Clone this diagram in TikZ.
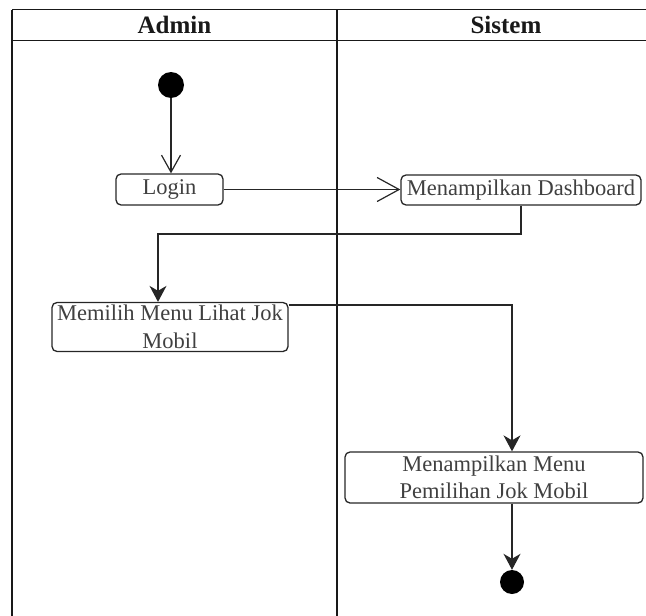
\documentclass[tikz,border=0pt]{standalone}
\usepackage{fontspec}
\setmainfont{Liberation Serif}
\usetikzlibrary{arrows.meta}
\begin{document}
\begin{tikzpicture}[x=1pt,y=-1pt,
  lane/.style={draw=black!90, line width=1.4pt},
  lanetitle/.style={font=\bfseries\fontsize{25}{30}\selectfont, text=black!90, inner sep=0pt},
  act/.style={draw=black!85, line width=1.3pt, rounded corners=5pt, inner sep=0pt,
    align=center, text=black!75, font=\fontsize{22.5}{27.5}\selectfont},
  dot/.style={circle, fill=black, inner sep=0pt},
  flow/.style={draw=black!85, line width=1.2pt},
  openflow/.style={flow, -{Straight Barb[length=#1, width=#1+2pt, line width=1.2pt]}},
  fillflow/.style={flow, -{Stealth[length=16pt, width=17pt, inset=5pt]}}
]
\clip (0,0) rectangle (646,616);

% swimlane pool
\draw[lane] (12,9.5) -- (690,9.5);
\draw[lane] (12,40.5) -- (690,40.5);
\draw[lane] (12,9.5) -- (12,640);
\draw[lane] (337,9.5) -- (337,640);
\node[lanetitle] (admin) at (174.5,25) {Admin};
\node[lanetitle] (sistem) at (506,25) {Sistem};

% activities
\node[dot, minimum size=26pt] (start) at (171,85) {};
\node[act, minimum width=107pt, minimum height=31pt] (login) at (169.5,189.5) {Login};
\node[act, minimum width=240pt, minimum height=30pt] (dash) at (521,190) {Menampilkan Dashboard};
\node[act, minimum width=236pt, minimum height=49pt] (pilih) at (170,327) {Memilih Menu Lihat Jok\\Mobil};
\node[act, minimum width=298pt, minimum height=51pt] (menu) at (494,477.5) {Menampilkan Menu\\Pemilihan Jok Mobil};
\node[dot, minimum size=24pt] (end) at (512,582) {};

% bends of the routed flows
\coordinate (bendA) at (158,234);
\coordinate (bendB) at (512,305);

% control flow
\draw[openflow=17pt] (start) -- (start |- login.north);
\draw[openflow=22pt] (login.east) -- (login.east -| dash.west);
\draw[fillflow] (dash.south) |- (bendA) -- (bendA |- pilih.north);
\draw[fillflow] (pilih.east |- bendB) -- (bendB) -- (bendB |- menu.north);
\draw[fillflow] (menu.south -| end) -- (end.north);
\end{tikzpicture}
\end{document}
